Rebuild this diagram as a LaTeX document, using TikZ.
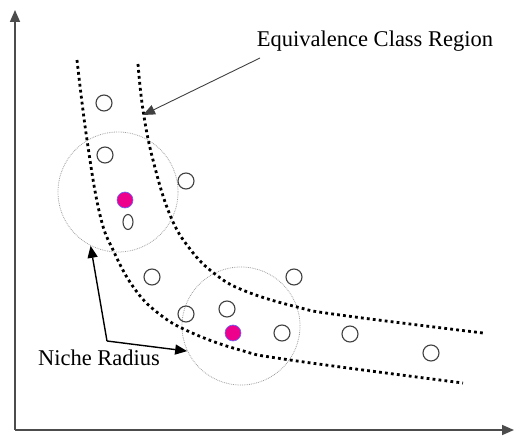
\documentclass[tikz,border=0pt]{standalone}
\usepackage{fontspec}
\setmainfont{Liberation Serif}
\usetikzlibrary{arrows.meta,shapes.geometric}

\begin{document}
\begin{tikzpicture}[x=1pt, y=-1pt,
  pt/.style={draw=black!75, circle, minimum size=16pt, inner sep=0pt, line width=1.1pt},
  best/.style={draw=blue!60, fill=magenta, circle, minimum size=16pt, inner sep=0pt, line width=0.6pt},
  niche/.style={draw=gray!75, densely dotted, circle, line width=0.8pt, inner sep=0pt},
  bound/.style={line width=2.8pt, dash pattern=on 2.8pt off 3.2pt},
  lbl/.style={font=\fontsize{22.5}{26}\selectfont, inner sep=0pt},
  ax/.style={-{Triangle[length=12pt,width=10pt]}, line width=1.6pt, draw=black!70},
  ar/.style={-{Triangle[length=12pt,width=10pt]}, line width=1.4pt}]
\useasboundingbox (0,0) rectangle (515,438);
% axes
\coordinate (o) at (15,430);
\coordinate (ytop) at (15,10);
\coordinate (xend) at (514,430);
\draw[ax] (o) -- (ytop);
\draw[ax] (o) -- (xend);
% niche circles
\node[niche, minimum size=120pt] (lc) at (118,192) {};
\node[niche, minimum size=118pt] (rc) at (241,326) {};
% class region boundaries
\draw[bound] plot[smooth, tension=0.7] coordinates {(77,60) (87,140) (100,215) (114,252) (134,288)
  (158,313) (190,332) (240,350) (290,360) (463,383)};
\draw[bound] plot[smooth, tension=0.7] coordinates {(138,64) (143,110) (153,160) (170,215) (190,249)
  (215,274) (245,291) (297,307) (340,315) (483,333)};
% individuals
\node[pt] (p1) at (104,103) {};
\node[pt] (p2) at (105,155) {};
\node[pt] (p3) at (186,181) {};
\node[best] (b1) at (125,200) {};
\node[pt, ellipse, minimum width=10pt, minimum height=15pt] (e1) at (128,222) {};
\node[pt] (p4) at (152,277) {};
\node[pt] (p5) at (186,314) {};
\node[pt] (p6) at (227,309) {};
\node[best] (b2) at (233,333) {};
\node[pt] (p7) at (294,277) {};
\node[pt] (p8) at (282,333) {};
\node[pt] (p9) at (350,334) {};
\node[pt] (p10) at (431,353) {};
% labels
\node[lbl, anchor=base] (eqlbl) at (375,47) {Equivalence Class Region};
\coordinate (eqs) at (260,58);
\coordinate (eqt) at (143,115);
\draw[ar, line width=0.9pt, draw=black!75] (eqs) -- (eqt);
\node[lbl, anchor=base] (nrlbl) at (99,366) {Niche Radius};
\coordinate (nr) at (107,341);
\draw[ar] (nr) -- (lc.243);
\draw[ar] (nr) -- (rc.205);
\end{tikzpicture}
\end{document}
